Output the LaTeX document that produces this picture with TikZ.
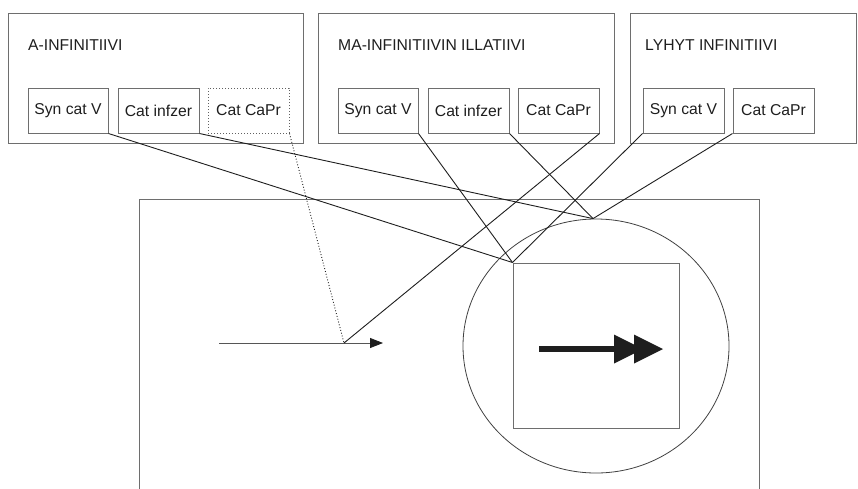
\documentclass[tikz,border=0pt]{standalone}
\usepackage{fontspec}
\setmainfont{Liberation Sans}
\usetikzlibrary{arrows.meta,shapes.geometric}
\definecolor{boxgray}{HTML}{6E6E6E}
\definecolor{ink}{HTML}{1E1E1E}
\begin{document}
\begin{tikzpicture}[x=1pt,y=-1pt,
  frame/.style={draw=boxgray,line width=1pt,inner sep=0pt},
  cell/.style={draw=boxgray,line width=1pt,minimum height=45pt,inner sep=0pt,text=ink,font=\fontsize{15.7}{18}\selectfont},
  dcell/.style={cell,draw=ink!70,dotted},
  ttl/.style={anchor=west,inner sep=0pt,text=ink,font=\fontsize{15.7}{18}\selectfont},
  link/.style={draw=ink,line width=0.9pt},
  dlink/.style={draw=ink,line width=0.9pt,dotted}]
\useasboundingbox (0,0) rectangle (858,488);
% top frames
\node[frame,minimum width=295pt,minimum height=130pt] (f1) at (155.5,78) {};
\node[frame,minimum width=296pt,minimum height=130pt] (f2) at (466,78) {};
\node[frame,minimum width=226pt,minimum height=130pt] (f3) at (743,78) {};
\node[ttl] (t1) at (28,45) {A-INFINITIIVI};
\node[ttl] (t2) at (338,45) {MA-INFINITIIVIN ILLATIIVI};
\node[ttl] (t3) at (645,45) {LYHYT INFINITIIVI};
% cells
\node[cell,minimum width=80pt] (a1) at (68,110.5) {Syn cat V};
\node[cell,minimum width=81pt] (a2) at (158.5,110.5) {Cat infzer};
\node[dcell,minimum width=81pt] (a3) at (248.5,110.5) {Cat CaPr};
\node[cell,minimum width=80pt] (b1) at (378,110.5) {Syn cat V};
\node[cell,minimum width=81pt] (b2) at (468.5,110.5) {Cat infzer};
\node[cell,minimum width=81pt] (b3) at (558.5,110.5) {Cat CaPr};
\node[cell,minimum width=81pt] (c1) at (683.5,110.5) {Syn cat V};
\node[cell,minimum width=81pt] (c2) at (773.5,110.5) {Cat CaPr};
% big frame (open at bottom)
\draw[boxgray,line width=1pt] (139,490) -- (139,199) -- (759,199) -- (759,490);
% circle and square
\node[draw=ink!85,line width=0.8pt,ellipse,minimum width=266pt,minimum height=254pt,inner sep=0pt] (circ) at (596,346) {};
\node[draw=boxgray,line width=1pt,minimum width=166pt,minimum height=165pt,inner sep=0pt] (sq) at (596,345.5) {};
\coordinate (top) at ([xshift=-3pt]circ.north);
% thick double arrow
\fill[ink] (539,346) rectangle (616,352);
\fill[ink] (614,334.5) -- (643,349) -- (614,363.5) -- cycle;
\fill[ink] (634,334.5) -- (663,349) -- (634,363.5) -- cycle;
% thin arrow
\coordinate (s) at (219,343);
\coordinate (j) at (344,343);
\coordinate (e) at (383,343);
\draw[draw=ink!75,line width=0.8pt,-{Triangle[length=13pt,width=10pt,color=ink]}] (s) -- (e);
% connectors
\draw[link] (a1.south east) -- (sq.north west);
\draw[link] (a2.south east) -- (top);
\draw[dlink] (a3.south east) -- (j);
\draw[link] (b1.south east) -- (sq.north west);
\draw[link] (b2.south east) -- (top);
\draw[link] (b3.south east) -- (j);
\draw[link] (c1.south west) -- (sq.north west);
\draw[link] (c2.south west) -- (top);
\end{tikzpicture}
\end{document}
